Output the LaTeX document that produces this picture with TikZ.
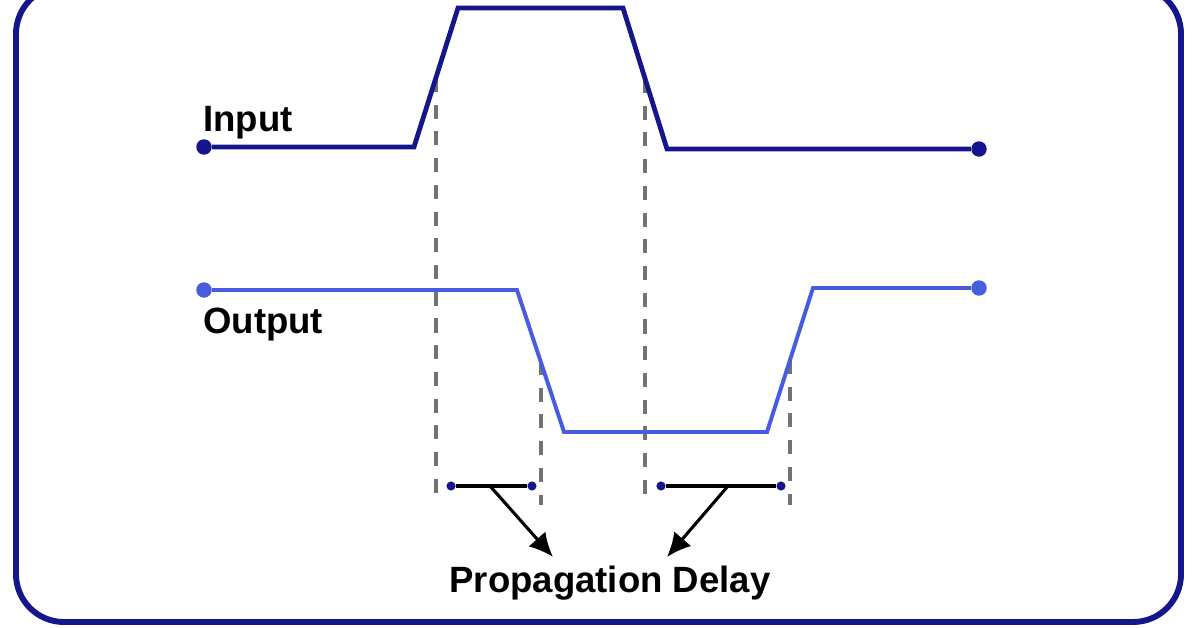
\documentclass[tikz,border=0pt]{standalone}
\usepackage{fontspec}
\setmainfont{Liberation Sans}
\usetikzlibrary{arrows.meta}

\definecolor{navy}{RGB}{22,22,140}
\definecolor{lightblue}{RGB}{72,92,225}
\definecolor{dashgray}{RGB}{115,115,115}

\tikzstyle{wavelabel}=[font=\fontsize{26}{31}\selectfont\bfseries, inner sep=0pt]
\tikzstyle{enddot}=[circle, fill, inner sep=0pt, minimum size=11pt]
\tikzstyle{delaydot}=[circle, fill=navy, inner sep=0pt, minimum size=6.5pt]
\tikzstyle{guide}=[dashgray, line width=2.6pt, dash pattern=on 10pt off 9pt]

\begin{document}
\begin{tikzpicture}[x=0.025cm, y=-0.025cm]
        \useasboundingbox (0, 0) rectangle (1196, 628);
        \draw[navy, line width=4.2pt, rounded corners=34pt] (16, -14) rectangle (1181, 622);

        \node[enddot, navy](in-l) at (204, 147) {};
        \node[enddot, navy](in-r) at (979, 149) {};
        \node[enddot, lightblue](out-l) at (204, 290) {};
        \node[enddot, lightblue](out-r) at (979, 288) {};

        \coordinate (in-a) at (414, 147);
        \coordinate (in-b) at (458, 8);
        \coordinate (in-c) at (623, 8);
        \coordinate (in-d) at (667, 149);
        \coordinate (out-a) at (517, 290);
        \coordinate (out-b) at (564, 432);
        \coordinate (out-c) at (767, 432);
        \coordinate (out-d) at (813, 288);

        \node[wavelabel, anchor=base west](input) at (203, 132) {Input};
        \node[wavelabel, anchor=base west](output) at (203, 334) {Output};
        \node[wavelabel, anchor=base](delay) at (610, 592) {Propagation Delay};

        \coordinate (g1t) at (436, 78);
        \coordinate (g1b) at (436, 497);
        \coordinate (g2t) at (541, 361);
        \coordinate (g2b) at (541, 505);
        \coordinate (g3t) at (645, 79);
        \coordinate (g3b) at (645, 497);
        \coordinate (g4t) at (790, 360);
        \coordinate (g4b) at (790, 505);

        \node[delaydot](d1l) at (451, 486) {};
        \node[delaydot](d1r) at (532, 486) {};
        \node[delaydot](d2l) at (661, 486) {};
        \node[delaydot](d2r) at (781, 486) {};
        \coordinate (a1s) at (490, 486);
        \coordinate (a1e) at (553, 557);
        \coordinate (a2s) at (728, 486);
        \coordinate (a2e) at (667, 557);

        \begin{scope}[guide]
            \draw (g1t) -- (g1b);
            \draw (g2t) -- (g2b);
            \draw (g3t) -- (g3b);
            \draw (g4t) -- (g4b);
        \end{scope}

        \draw[navy, line width=3.4pt] (in-l) -- (in-a) -- (in-b) -- (in-c) -- (in-d) -- (in-r);
        \draw[lightblue, line width=2.8pt] (out-l) -- (out-a) -- (out-b) -- (out-c) -- (out-d) -- (out-r);

        \begin{scope}[every path/.style={black, line width=2.2pt}]
            \draw (d1l) -- (d1r);
            \draw (d2l) -- (d2r);
            \draw[-{Latex[length=17pt, width=16pt]}] (a1s) -- (a1e);
            \draw[-{Latex[length=17pt, width=16pt]}] (a2s) -- (a2e);
        \end{scope}
    \end{tikzpicture}
\end{document}
